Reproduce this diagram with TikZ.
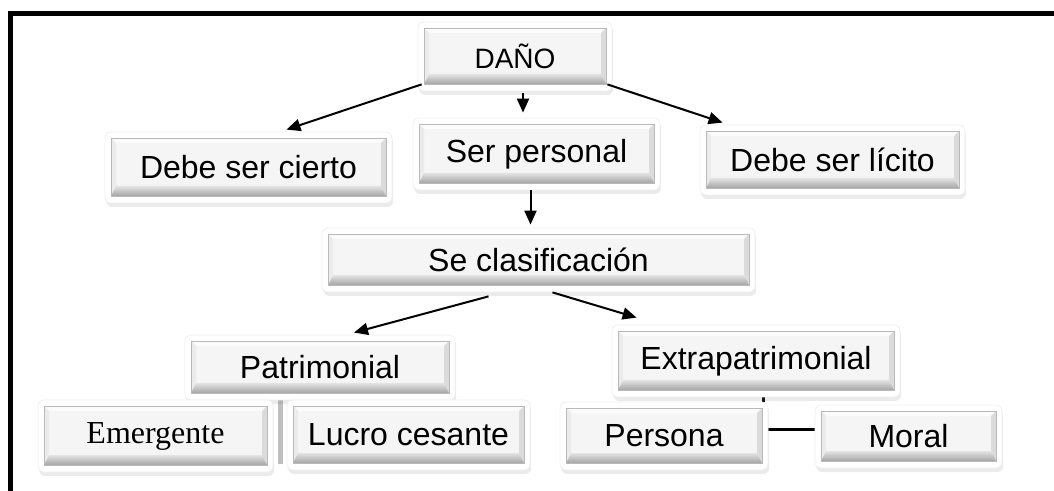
\documentclass[tikz,border=0pt]{standalone}
\usepackage{fontspec}
\setmainfont{Liberation Sans}
\newfontfamily\timesfont{Liberation Serif}
\usetikzlibrary{arrows.meta,shadows,backgrounds}

\tikzset{
  bevelbox/.style={rounded corners=3pt, fill=white, draw=gray!12, inner sep=0pt,
    drop shadow={shadow xshift=0.6pt, shadow yshift=-2pt, opacity=0.16},
    font=\fontsize{16}{18}\selectfont,
    path picture={
      \begin{scope}[sharp corners]
        \path ([shift={(3pt,-3pt)}]path picture bounding box.north west) coordinate (bvA)
              ([shift={(-3pt,3.5pt)}]path picture bounding box.south east) coordinate (bvB);
        \path ([shift={(2.5pt,-2.5pt)}]bvA) coordinate (bva)
              ([shift={(-2.5pt,5pt)}]bvB) coordinate (bvb);
        \fill[gray!8] (bva) rectangle (bvb);
        \fill[gray!3] (bvA) -- (bvA -| bvB) -- (bva -| bvb) -- (bva) -- cycle;
        \fill[gray!16] (bvA) -- (bva) -- (bva |- bvb) -- (bvA |- bvB) -- cycle;
        \fill[gray!28] (bvA -| bvB) -- (bvB) -- (bvb) -- (bva -| bvb) -- cycle;
        \shade[top color=gray!22, bottom color=gray!70] (bvA |- bvB) -- (bvB) -- (bvb) -- (bva |- bvb) -- cycle;
        \draw[gray!55, line width=0.4pt] (bvA) rectangle (bvB);
      \end{scope}
    }},
  linkarrow/.style={-{Triangle[length=7pt,width=6pt]}, line width=1pt}
}

\begin{document}
\begin{tikzpicture}[x=0.5pt,y=-0.5pt]
  \useasboundingbox (0,0) rectangle (1054,491);
  \clip (0,0) rectangle (1054,491);

  % outer frame
  \draw[line width=2.5pt] (10.5,13.5) rectangle (1080,520);

  % top level
  \node[bevelbox, minimum width=97pt, minimum height=34.5pt, font=\fontsize{14}{16}\selectfont] (dano) at (515,56.5) {DAÑO};

  % requirements
  \node[bevelbox, minimum width=143.5pt, minimum height=35.5pt] (cierto) at (248.5,167.5) {Debe ser cierto};
  \node[bevelbox, minimum width=123.5pt, minimum height=36pt] (personal) at (536.5,154) {Ser personal};
  \node[bevelbox, minimum width=132.5pt, minimum height=35pt] (licito) at (832.5,160) {Debe ser lícito};

  % classification
  \node[bevelbox, minimum width=216.5pt, minimum height=32pt] (clasif) at (538.5,260) {Se clasificación};
  \node[bevelbox, minimum width=135pt, minimum height=32.5pt] (patrim) at (320,367.5) {Patrimonial};
  \node[bevelbox, minimum width=144pt, minimum height=36pt] (extra) at (756,361) {Extrapatrimonial};

  % connectors behind the lower boxes
  \begin{scope}[on background layer]
    \draw[gray!50, line width=2.5pt] ([xshift=-20pt]patrim.south) -- ([xshift=-20pt,yshift=3pt]patrim.south |- 0,470);
    \draw[line width=1.5pt] ([xshift=3.5pt]extra.south) |- (908.5,429);
  \end{scope}

  % lower level
  \node[bevelbox, minimum width=117.5pt, minimum height=36pt, font=\timesfont\fontsize{16}{18}\selectfont] (emerg) at (155.5,436) {Emergente};
  \node[bevelbox, minimum width=121.5pt, minimum height=35pt] (lucro) at (408.5,435) {Lucro cesante};
  \node[bevelbox, minimum width=104pt, minimum height=34pt] (persona) at (664,436) {Persona};
  \node[bevelbox, minimum width=93.5pt, minimum height=31.5pt] (moral) at (908.5,436.5) {\raisebox{-2pt}{Moral}};

  % arrows
  \draw[linkarrow] ([shift={(2pt,3.5pt)}]dano.south west) -- ([shift={(19pt,1pt)}]cierto.north);
  \draw[linkarrow] ([xshift=4pt,yshift=-1pt]dano.south) -- ([xshift=4pt,yshift=2.5pt]dano.south |- personal.north);
  \draw[linkarrow] ([shift={(-2.5pt,3.5pt)}]dano.south east) -- ([shift={(11.5pt,1pt)}]licito.north west);
  \draw[linkarrow] ([xshift=-3pt]personal.south) -- ([xshift=-3pt,yshift=1.5pt]personal.south |- clasif.north);
  \draw[linkarrow] ([xshift=-25pt,yshift=-2pt]clasif.south) -- ([shift={(17pt,1pt)}]patrim.north);
  \draw[linkarrow] ([xshift=7pt]clasif.south) -- ([shift={(12.5pt,3.5pt)}]extra.north west);
\end{tikzpicture}
\end{document}
